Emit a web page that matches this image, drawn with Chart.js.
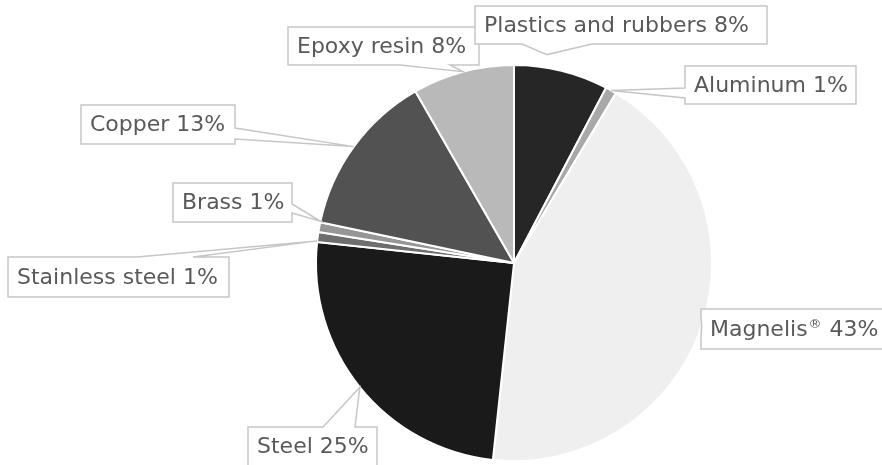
<!DOCTYPE html>
<html lang="en">
<head>
    <meta charset="UTF-8">
    <script src="https://cdn.jsdelivr.net/npm/chart.js@4.4.6/dist/chart.umd.min.js"></script>
    <title>Materials</title>
    <style>
        body { margin: 0; background: #fff; }
    </style>
</head>
<body>
    <div style="width:882px;height:465px;">
        <canvas id="materials"></canvas>
    </div>

    <script>
        // slices clockwise from 12 o'clock
        const categories = ['Plastics and rubbers', 'Aluminum', 'Magnelis®', 'Steel',
            'Stainless steel', 'Brass', 'Copper', 'Epoxy resin']
        const shares = [7.7, 0.9, 43.1, 25.0, 0.8, 0.8, 13.4, 8.3]
        const shownPct = [8, 1, 43, 25, 1, 1, 13, 8]                  // what the callouts say
        const colors = ['#262626', '#a8a8a8', '#efefef', '#1a1a1a', '#6e6e6e', '#969696', '#525252', '#b9b9b9']

        // callout boxes: x, y, w, h, side the pointer leaves from, pointer base span on that side
        // shift = [angle offset rad, radius offset px] for the pointer tip
        const labelBoxes = [
            { x: 475, y: 6, w: 292, h: 38, side: 'bottom', base: [522, 592], shift: [-0.085, 13] },
            { x: 685, y: 66, w: 171, h: 38, side: 'left', base: [88, 98] },
            { x: 701, y: 309, w: 190, h: 40, side: 'left', base: [316, 336] },
            { x: 248, y: 427, w: 129, h: 39, side: 'top', base: [323, 355] },
            { x: 8, y: 257, w: 221, h: 40, side: 'top', base: [137, 193], shift: [-0.02, 0] },
            { x: 173, y: 183, w: 119, h: 39, side: 'right', base: [204, 213], shift: [0.03, 0] },
            { x: 81, y: 105, w: 154, h: 39, side: 'right', base: [128, 139] },
            { x: 288, y: 27, w: 191, h: 38, side: 'bottom', base: [400, 450] }
        ]

        // draws text, shrinking and raising a ® sign like the original face does
        function drawLabel(ctx, text, x, y) {
            const parts = text.split('®')
            let cx = x
            parts.forEach((p, k) => {
                ctx.font = '22px "DejaVu Sans"'
                ctx.fillText(p, cx, y)
                cx += ctx.measureText(p).width
                if (k < parts.length - 1) {
                    ctx.font = '13px "DejaVu Sans"'
                    ctx.fillText('®', cx + 1, y - 5)
                    cx += ctx.measureText('®').width + 2
                }
            })
        }

        const calloutPlugin = {
            id: 'callouts',
            afterDraw(chart) {
                const ctx = chart.ctx
                const arcs = chart.getDatasetMeta(0).data
                ctx.save()
                ctx.lineWidth = 1.5
                ctx.strokeStyle = '#c6c6c6'
                ctx.lineJoin = 'miter'
                // draw last first so the top labels sit in front
                for (let i = labelBoxes.length - 1; i >= 0; i--) {
                    const b = labelBoxes[i]
                    const arc = arcs[i]
                    const shift = b.shift || [0, 0]
                    const mid = (arc.startAngle + arc.endAngle) / 2 + shift[0]
                    const r = arc.outerRadius + shift[1]
                    const tx = arc.x + Math.cos(mid) * r
                    const ty = arc.y + Math.sin(mid) * r
                    const x0 = b.x, y0 = b.y, x1 = b.x + b.w, y1 = b.y + b.h

                    ctx.beginPath()
                    ctx.moveTo(x0, y0)
                    if (b.side === 'top') { ctx.lineTo(b.base[0], y0); ctx.lineTo(tx, ty); ctx.lineTo(b.base[1], y0) }
                    ctx.lineTo(x1, y0)
                    if (b.side === 'right') { ctx.lineTo(x1, b.base[0]); ctx.lineTo(tx, ty); ctx.lineTo(x1, b.base[1]) }
                    ctx.lineTo(x1, y1)
                    if (b.side === 'bottom') { ctx.lineTo(b.base[1], y1); ctx.lineTo(tx, ty); ctx.lineTo(b.base[0], y1) }
                    ctx.lineTo(x0, y1)
                    if (b.side === 'left') { ctx.lineTo(x0, b.base[1]); ctx.lineTo(tx, ty); ctx.lineTo(x0, b.base[0]) }
                    ctx.closePath()
                    ctx.fillStyle = '#ffffff'
                    ctx.fill()
                    ctx.stroke()

                    ctx.fillStyle = '#595959'
                    ctx.textBaseline = 'middle'
                    ctx.textAlign = 'left'
                    drawLabel(ctx, categories[i] + ' ' + shownPct[i] + '%', x0 + 9, y0 + b.h / 2 + 1)
                }
                ctx.restore()
            }
        }

        new Chart(document.getElementById('materials'), {
            type: 'pie',
            data: {
                labels: categories,
                datasets: [{
                    data: shares,
                    backgroundColor: colors,
                    borderColor: '#ffffff',
                    borderWidth: 2,
                    hoverOffset: 0
                }]
            },
            options: {
                responsive: true,
                maintainAspectRatio: false,
                animation: false,
                events: [],
                radius: 198,
                layout: { padding: { left: 146, top: 61, right: 0, bottom: 0 } },
                plugins: {
                    legend: { display: false },
                    tooltip: { enabled: false }
                }
            },
            plugins: [calloutPlugin]
        })
    </script>
</body>
</html>
